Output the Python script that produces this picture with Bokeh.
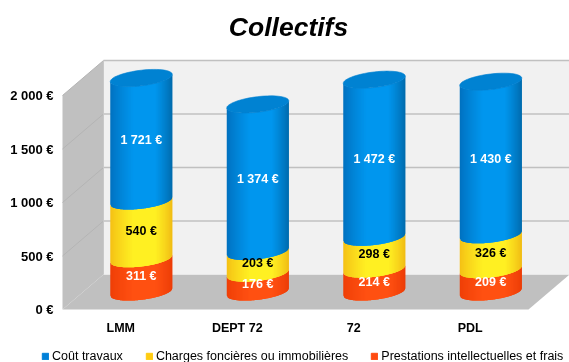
import math
from bokeh.plotting import figure
from bokeh.models import (Range1d, FixedTicker, Label, Legend, LegendItem, LinearAxis)
from bokeh.core.properties import value
from bokeh.embed import file_html
from bokeh.resources import INLINE

categories = ["LMM", "DEPT 72", "72", "PDL"]
cout_travaux = [1721, 1374, 1472, 1430]
charges = [540, 203, 298, 326]
prestations = [311, 176, 214, 209]
y_ticks = [0, 500, 1000, 1500, 2000]
y_tick_labels = ["0 €", "500 €", "1 000 €", "1 500 €", "2 000 €"]
series_names = ["Coût travaux", "Charges foncières ou immobilières", "Prestations intellectuelles et frais"]

# pixel scale of the axes
PX_Y = 0.107          # px per euro
PX_X = 116.5          # px per category
Y_MAX = 2000
DX = 41 / PX_X        # depth of the 3D box
DY = 35 / PX_Y
HW = 31 / PX_X        # half width of a cylinder
BB = 7.8 / PX_Y       # front bulge of an ellipse
TILT = 3.6 / PX_Y     # skew of an ellipse
N = 62

FONT = "Liberation Sans"
GREY = "#c0c0c0"

p = figure(width=569, height=362, output_backend="svg", toolbar_location=None,
           x_range=Range1d(-0.5 - 62 / PX_X, 3.5 + DX), y_range=Range1d(-53 / PX_Y, 309 / PX_Y),
           min_border_left=0, min_border_right=0, min_border_top=0, min_border_bottom=0,
           x_axis_location=None, y_axis_location=None,
           outline_line_color=None, background_fill_color="white")
p.styles = {"position": "fixed", "left": "0", "top": "0"}
p.grid.visible = False

x0, x1 = -0.5, 3.5
# left wall, floor, back wall
p.patch([x0, x0 + DX, x0 + DX, x0], [0, DY, Y_MAX + DY, Y_MAX], fill_color=GREY, line_color=None)
p.patch([x0, x1, x1 + DX, x0 + DX], [0, 0, DY, DY], fill_color=GREY, line_color=None)
p.patch([x0 + DX, x1 + DX, x1 + DX, x0 + DX], [DY, DY, Y_MAX + DY, Y_MAX + DY],
        fill_color="#f1f1f1", line_color=None)
for t in y_ticks[1:]:
    p.line([x0 + DX, x1 + DX], [t + DY, t + DY], line_color=GREY, line_width=1.6)
    p.line([x0, x0 + DX], [t, t + DY], line_color="#b4b4b4", line_width=1)
p.line([x0 + DX, x0 + DX], [DY, Y_MAX + DY], line_color="#c8c8c8", line_width=1)


def mix(a, b, k):
    return "#%02x%02x%02x" % tuple(round(a[i] + (b[i] - a[i]) * k) for i in range(3))


def shade(u, edge_l, mid, edge_r):
    if u < 0.05:
        k = min(1.0, (u + 1) / 0.75)
        return mix(edge_l, mid, k ** 0.8)
    k = min(1.0, (1 - u) / 0.55)
    return mix(edge_r, mid, k ** 0.8)


def arc(u, level):
    return level + TILT * u - BB * math.sqrt(max(0.0, 1 - u * u))


def segment(cx, lo, hi, pal):
    # strips overlap their right neighbour, which is painted later, so no seams show
    xs, ys, cols = [], [], []
    for j in range(N):
        u0 = -1 + 2 * j / N
        u1 = -1 + 2 * (j + 1) / N
        u2 = min(1.0, -1 + 2 * (j + 2.5) / N)
        um = (u0 + u2) / 2
        xs.append([cx + HW * u0, cx + HW * um, cx + HW * u2, cx + HW * u2, cx + HW * um, cx + HW * u0])
        ys.append([arc(u0, lo), arc(um, lo), arc(u2, lo), arc(u2, hi), arc(um, hi), arc(u0, hi)])
        cols.append(shade((u0 + u1) / 2, *pal))
    p.patches(xs, ys, fill_color=cols, line_color=None)


BLUE = ((0, 112, 190), (0, 150, 238), (0, 105, 170))
YELLOW = ((244, 190, 20), (255, 240, 35), (240, 185, 20))
RED = ((238, 62, 6), (255, 80, 18), (235, 60, 6))

lab_x, lab_y, lab_t, lab_c = [], [], [], []
for i, name in enumerate(categories):
    cx = i + DX / 2
    stack = [(prestations[i], RED, "white"), (charges[i], YELLOW, "black"), (cout_travaux[i], BLUE, "white")]
    base = DY / 2
    total = 0
    for v, pal, col in stack:
        vis = min(total + v, Y_MAX) - total
        segment(cx, base + total, base + total + vis, pal)
        lab_x.append(cx)
        lab_y.append(base + total + vis / 2)
        lab_t.append(f"{v:,} €".replace(",", " "))
        lab_c.append(col)
        total += vis
    # top cap
    n = 60
    ex = [cx + HW * math.cos(2 * math.pi * k / n) for k in range(n)]
    ey = [base + total + TILT * math.cos(2 * math.pi * k / n) + BB * math.sin(2 * math.pi * k / n) for k in range(n)]
    p.patch(ex, ey, fill_color="#0082d2", line_color="#0082d2", line_width=0.6)

p.text(lab_x, lab_y, text=lab_t, text_color=lab_c, text_font=value(FONT), text_font_style="bold",
       text_font_size="12.5px", text_align="center", text_baseline="middle", y_offset=1)

# axes, pinned to the front edges of the box
yax = LinearAxis(ticker=FixedTicker(ticks=y_ticks), major_label_overrides=dict(zip(y_ticks, y_tick_labels)),
                 fixed_location=x0, major_label_standoff=9, major_label_text_font_size="13px")
xax = LinearAxis(ticker=FixedTicker(ticks=list(range(len(categories)))),
                 major_label_overrides=dict(enumerate(categories)),
                 fixed_location=0, major_label_standoff=11, major_label_text_font_size="12.5px")
p.add_layout(yax, "left")
p.add_layout(xax, "below")
for ax in (xax, yax):
    ax.axis_line_color = None
    ax.major_tick_line_color = None
    ax.minor_tick_line_color = None
    ax.major_tick_in = 0
    ax.major_tick_out = 0
    ax.major_label_text_font = FONT
    ax.major_label_text_font_style = "bold"
    ax.major_label_text_color = "black"

# legend: swatches come from quads lying outside the visible ranges
items = []
for nm, c in zip(series_names, ["#0080d8", "#ffcc11", "#ff4a10"]):
    r = p.quad(left=[-100], right=[-99], bottom=[-9999], top=[-9998], fill_color=c, line_color=c)
    items.append(LegendItem(label=nm, renderers=[r]))
leg = Legend(items=items, orientation="horizontal", location=(41, -1), spacing=22,
             glyph_width=8, glyph_height=8, label_standoff=3, padding=0, margin=0,
             border_line_color=None, background_fill_alpha=0,
             label_text_font=FONT, label_text_font_size="12.5px", label_text_color="black",
             label_height=12)
p.add_layout(leg, "center")

p.add_layout(Label(x=288, y=336, x_units="screen", y_units="screen", text="Collectifs",
                   text_font=FONT, text_font_style="bold italic", text_font_size="26.5px",
                   text_align="center", text_baseline="middle", text_color="black"))

open("out.html", "w").write(file_html(p, INLINE))
